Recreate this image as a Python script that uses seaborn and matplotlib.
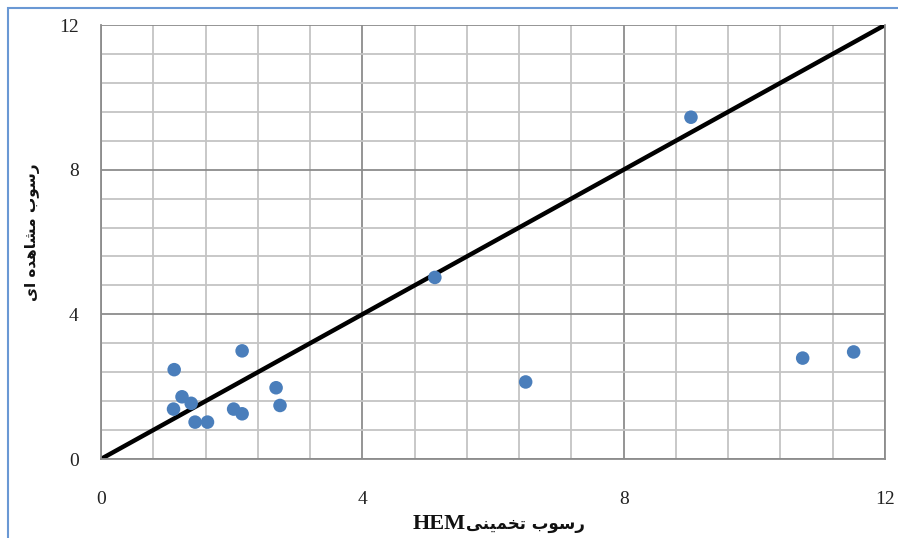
import matplotlib
matplotlib.use("Agg")
import matplotlib.pyplot as plt
import seaborn as sns
import pandas as pd
import numpy as np
from matplotlib.patches import Rectangle

# ---- data ----
estimated = [1.12, 1.24, 1.11, 1.38, 1.44, 1.63, 2.16, 2.03, 2.16, 2.68, 2.74,
             5.11, 6.50, 9.03, 10.74, 11.52]
observed = [2.47, 1.72, 1.38, 1.54, 1.02, 1.02, 2.99, 1.38, 1.25, 1.97, 1.48,
            5.02, 2.13, 9.45, 2.79, 2.96]
line_x = [0, 12]
line_y = [0, 12]
major_ticks = [0, 4, 8, 12]
tick_labels = ["0", "4", "8", "12"]

# Persian labels, pre-shaped (Arabic presentation forms, visual order)
ylabel_text = "\uFEEF\uFE8D \uFEE9\uFEAA\uFEEB\uFE8E\uFEB8\uFEE3 \uFE8F\uFEEE\uFEB3\uFEAD"  # رسوب مشاهده ای
xlabel_fa = "\uFEF0\uFEE8\uFEF4\uFEE4\uFEA8\uFE97 \uFE8F\uFEEE\uFEB3\uFEAD"  # رسوب تخمینی
xlabel_en = "HEM"

df = pd.DataFrame({"estimated": estimated, "observed": observed})

sns.set_theme(style="white")
plt.rcParams["font.family"] = ["Liberation Serif", "DejaVu Sans"]

fig = plt.figure(figsize=(8.98, 5.38), dpi=100)
ax = fig.add_axes([101 / 898, 1 - 459 / 538, 784 / 898, 434 / 538])

minor = np.arange(0, 12.01, 0.8)
ax.set_xticks(minor, minor=True)
ax.set_yticks(minor, minor=True)
ax.grid(which="minor", color="#C4C4C4", linewidth=1.3, zorder=0)
ax.grid(which="major", color="#8C8C8C", linewidth=1.3, zorder=0)
ax.tick_params(which="minor", length=0)

ax.plot(line_x, line_y, color="black", linewidth=3.2, zorder=2, solid_capstyle="butt")
sns.scatterplot(data=df, x="estimated", y="observed", ax=ax, s=95,
                color="#4A7EBB", edgecolor="none", zorder=3, legend=False)

ax.set_xlim(0, 12)
ax.set_ylim(0, 12)
ax.set_xticks(major_ticks)
ax.set_yticks(major_ticks)
ax.set_xticklabels(tick_labels)
ax.set_yticklabels(tick_labels)
ax.tick_params(which="major", direction="out", length=6, width=1.3, color="#8C8C8C",
               labelsize=14, labelcolor="#222222")
ax.tick_params(axis="x", pad=17)
ax.tick_params(axis="y", pad=10)
for lab in ax.get_xticklabels() + ax.get_yticklabels():
    lab.set_family("Liberation Serif")
ax.set_xlabel("")
ax.set_ylabel("")
for side in ["left", "bottom", "right", "top"]:
    ax.spines[side].set_color("#8C8C8C")
    ax.spines[side].set_linewidth(1.3)
ax.spines["top"].set_visible(False)

# axis titles
fig.text(466 / 898, 1 - 524 / 538, xlabel_fa, ha="left", va="center",
         fontsize=12, fontweight="bold", family=["DejaVu Sans"], color="#111111")
fig.text(466 / 898, 1 - 524 / 538, xlabel_en, ha="right", va="center",
         fontsize=16, fontweight="bold", family=["Liberation Serif"], color="#111111")
fig.text(33 / 898, 1 - 232 / 538, ylabel_text, ha="center", va="center", rotation=90,
         fontsize=11, fontweight="bold", family=["DejaVu Sans"], color="#111111")

# outer chart frame
fig.patches.append(Rectangle((8 / 898, -0.05), 1.2, 1 - 8 / 538 + 0.05,
                             transform=fig.transFigure, fill=False,
                             edgecolor="#6A98D4", linewidth=1.5, zorder=0))

fig.savefig("out.png", dpi=100)
